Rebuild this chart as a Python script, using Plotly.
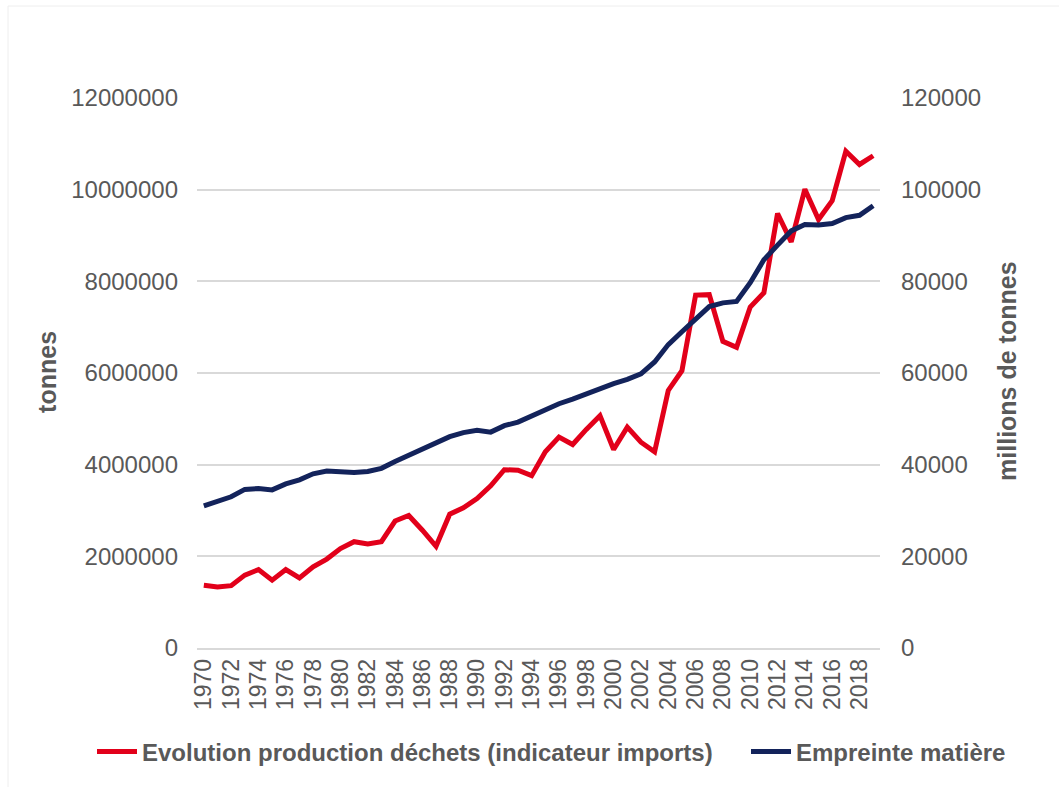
import plotly.graph_objects as go

# Annual series, 1970-2019
years = list(range(1970, 2020))

# Waste production estimate from imports indicator (tonnes, left axis)
waste_tonnes = [
    1370000, 1330000, 1360000, 1590000, 1710000, 1480000, 1710000, 1530000, 1770000, 1940000,
    2170000, 2320000, 2270000, 2320000, 2770000, 2890000, 2570000, 2220000, 2920000, 3060000,
    3260000, 3540000, 3890000, 3880000, 3760000, 4280000, 4600000, 4440000, 4770000, 5070000,
    4330000, 4820000, 4490000, 4280000, 5620000, 6050000, 7700000, 7710000, 6690000, 6560000,
    7440000, 7750000, 9480000, 8860000, 10010000, 9350000, 9760000, 10840000, 10550000, 10740000,
]

# Material footprint (millions of tonnes, right axis)
footprint_mt = [
    31000, 32000, 33000, 34600, 34800, 34500, 35800, 36700, 38000, 38600,
    38400, 38300, 38500, 39200, 40700, 42100, 43400, 44900, 46100, 47000,
    47500, 47100, 48500, 49300, 50700, 52100, 53300, 54300, 55500, 56600,
    57700, 58600, 59800, 62400, 66200, 69000, 71900, 74500, 75300, 75600,
    79700, 84700, 87900, 91000, 92400, 92300, 92600, 93900, 94400, 96500,
]

waste_name = "Evolution production déchets (indicateur imports)"
footprint_name = "Empreinte matière"
left_title = "tonnes"
right_title = "millions de tonnes"

RED = "#E2001A"
NAVY = "#13235B"
TEXT = "#595959"
GRID = "#D9D9D9"
FONT = "Liberation Sans, Arial, sans-serif"

W, H = 1059, 787

fig = go.Figure()
fig.add_trace(go.Scatter(
    x=years, y=waste_tonnes, name=waste_name, mode="lines",
    line=dict(color=RED, width=5), yaxis="y", legend="legend",
))
fig.add_trace(go.Scatter(
    x=years, y=footprint_mt, name=footprint_name, mode="lines",
    line=dict(color=NAVY, width=5), yaxis="y2", legend="legend2",
))

legend_font = dict(size=24, color=TEXT, family=FONT, weight="bold")
legend_common = dict(
    orientation="h", xref="container", yref="container",
    xanchor="left", yanchor="middle", y=1 - 752 / H,
    font=legend_font, itemwidth=40, bgcolor="rgba(0,0,0,0)",
)

fig.update_layout(
    width=W, height=H,
    margin=dict(l=197, r=179, t=98, b=139, autoexpand=False),
    paper_bgcolor="white", plot_bgcolor="white",
    font=dict(family=FONT, color=TEXT, size=24),
    showlegend=True,
    legend=dict(x=92 / W, **legend_common),
    legend2=dict(x=746 / W, **legend_common),
    xaxis=dict(
        range=[1969.5, 2019.5],
        tickmode="array", tickvals=years[::2], ticktext=[str(y) for y in years[::2]],
        tickangle=-90, showgrid=False, zeroline=False,
        showline=True, linecolor=GRID, linewidth=1.5,
        ticks="", tickfont=dict(size=23, color=TEXT),
    ),
    yaxis=dict(
        range=[0, 12000000], dtick=2000000, tickformat="d",
        showgrid=True, gridcolor=GRID, gridwidth=1.5, zeroline=False,
        showline=False, ticks="", ticklabelstandoff=18,
        tickfont=dict(size=24, color=TEXT),
    ),
    yaxis2=dict(
        range=[0, 120000], dtick=20000, tickformat="d",
        overlaying="y", side="right", showgrid=False, zeroline=False,
        showline=False, ticks="", ticklabelstandoff=20,
        tickfont=dict(size=24, color=TEXT),
    ),
    annotations=[
        dict(text=left_title, xref="paper", yref="paper", x=-0.2196, y=0.502,
             textangle=-90, showarrow=False, xanchor="center", yanchor="middle",
             font=dict(size=25, color=TEXT, family=FONT, weight="bold")),
        dict(text=right_title, xref="paper", yref="paper", x=1.186, y=0.502,
             textangle=-90, showarrow=False, xanchor="center", yanchor="middle",
             font=dict(size=25, color=TEXT, family=FONT, weight="bold")),
    ],
    shapes=[
        dict(type="rect", xref="paper", yref="paper",
             x0=(8 - 197) / 683, x1=(1065 - 197) / 683,
             y0=(648 - 795) / 550, y1=(648 - 6) / 550,
             line=dict(color="#EEEEEE", width=1), layer="below"),
    ],
)

fig.write_html("out.html")
